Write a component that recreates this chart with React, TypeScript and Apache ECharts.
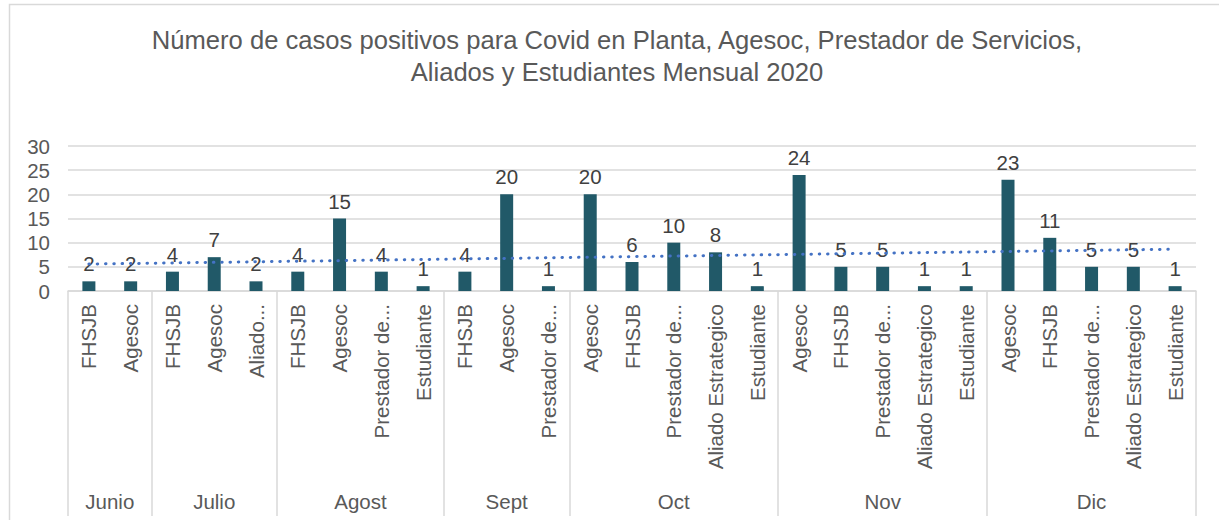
import React, { useEffect, useRef } from "react";
import * as echarts from "echarts";

const TITLE = "Número de casos positivos para Covid en Planta, Agesoc, Prestador de Servicios,\nAliados y Estudiantes Mensual 2020";

const months = ["Junio", "Julio", "Agost", "Sept", "Oct", "Nov", "Dic"];
const monthSizes = [2, 3, 4, 3, 5, 5, 5];

const categories = [
  "FHSJB", "Agesoc",
  "FHSJB", "Agesoc", "Aliado...",
  "FHSJB", "Agesoc", "Prestador de...", "Estudiante",
  "FHSJB", "Agesoc", "Prestador de...",
  "Agesoc", "FHSJB", "Prestador de...", "Aliado Estrategico", "Estudiante",
  "Agesoc", "FHSJB", "Prestador de...", "Aliado Estrategico", "Estudiante",
  "Agesoc", "FHSJB", "Prestador de...", "Aliado Estrategico", "Estudiante",
];

const values = [
  2, 2,
  4, 7, 2,
  4, 15, 4, 1,
  4, 20, 1,
  20, 6, 10, 8, 1,
  24, 5, 5, 1, 1,
  23, 11, 5, 5, 1,
];

const yTicks = [0, 5, 10, 15, 20, 25, 30];

// linear trendline (least squares) from the values
function trend(v: number[]): number[] {
  const n = v.length;
  const xs = v.map((_, i) => i + 1);
  const mx = xs.reduce((a, b) => a + b, 0) / n;
  const my = v.reduce((a, b) => a + b, 0) / n;
  let sxy = 0, sxx = 0;
  for (let i = 0; i < n; i++) {
    sxy += (xs[i] - mx) * (v[i] - my);
    sxx += (xs[i] - mx) * (xs[i] - mx);
  }
  const b = sxy / sxx;
  const a = my - b * mx;
  return xs.map((x) => +(a + b * x).toFixed(3));
}

export default function App() {
  const ref = useRef<HTMLDivElement>(null);
  useEffect(() => {
    if (!ref.current) return;
    const chart = echarts.init(ref.current, null, { renderer: "svg" });
    const boundaries: number[] = [0];
    const mids: number[] = [];
    let acc = 0;
    monthSizes.forEach((s) => {
      mids.push(acc + s / 2);
      acc += s;
      boundaries.push(acc);
    });
    const font = "Liberation Sans, Arial, sans-serif";
    chart.setOption({
      animation: false,
      textStyle: { fontFamily: font },
      graphic: [
        {
          type: "polyline",
          shape: { points: [[9.5, 520], [9.5, 4.5], [1219, 4.5]] },
          style: { stroke: "#d9d9d9", lineWidth: 1.5, fill: "none" },
          silent: true,
        },
        {
          type: "text",
          x: 617,
          y: 24,
          style: {
            text: TITLE,
            textAlign: "center",
            fontSize: 25.6,
            fontFamily: font,
            lineHeight: 32,
            fill: "#595959",
          },
        },
      ],
      grid: { left: 68, right: 23, top: 146, bottom: 234, containLabel: false },
      xAxis: [
        {
          type: "category",
          data: categories,
          axisLine: { show: true, lineStyle: { color: "#d9d9d9", width: 1.5 } },
          axisTick: { show: false },
          axisLabel: {
            rotate: 90,
            interval: 0,
            margin: 13,
            fontSize: 20.5,
            color: "#595959",
            fontFamily: font,
          },
        },
        {
          type: "value",
          min: 0,
          max: categories.length,
          position: "bottom",
          splitLine: { show: false },
          axisLine: { show: false },
          axisTick: {
            show: true,
            customValues: boundaries,
            length: 225,
            lineStyle: { color: "#d9d9d9", width: 1.5 },
          },
          axisLabel: {
            customValues: mids,
            margin: 200,
            fontSize: 20.5,
            color: "#595959",
            fontFamily: font,
            formatter: (v: number) => {
              const i = mids.findIndex((m) => Math.abs(m - v) < 1e-6);
              return i >= 0 ? months[i] : "";
            },
          },
        },
      ],
      yAxis: {
        type: "value",
        min: 0,
        max: 30,
        interval: 5,
        axisLine: { show: false },
        axisTick: { show: false },
        splitLine: { lineStyle: { color: "#d9d9d9", width: 1.5 } },
        axisLabel: {
          margin: 18,
          fontSize: 20.5,
          color: "#595959",
          fontFamily: font,
          formatter: (v: number) => (yTicks.includes(v) ? String(v) : ""),
        },
      },
      series: [
        {
          type: "bar",
          data: values,
          barWidth: 13,
          itemStyle: { color: "#215968" },
          label: {
            show: true,
            position: "top",
            distance: 7,
            fontSize: 20.5,
            color: "#404040",
            fontFamily: font,
          },
          z: 2,
        },
        {
          type: "line",
          data: trend(values),
          symbol: "none",
          silent: true,
          lineStyle: {
            color: "#4472C4",
            width: 3,
            type: [0.5, 7.8],
            cap: "round",
          },
          z: 3,
        },
      ],
    });
    return () => chart.dispose();
  }, []);
  return (
    <div
      ref={ref}
      style={{ position: "absolute", left: 0, top: 0, width: 1219, height: 525, background: "#fff" }}
    />
  );
}
